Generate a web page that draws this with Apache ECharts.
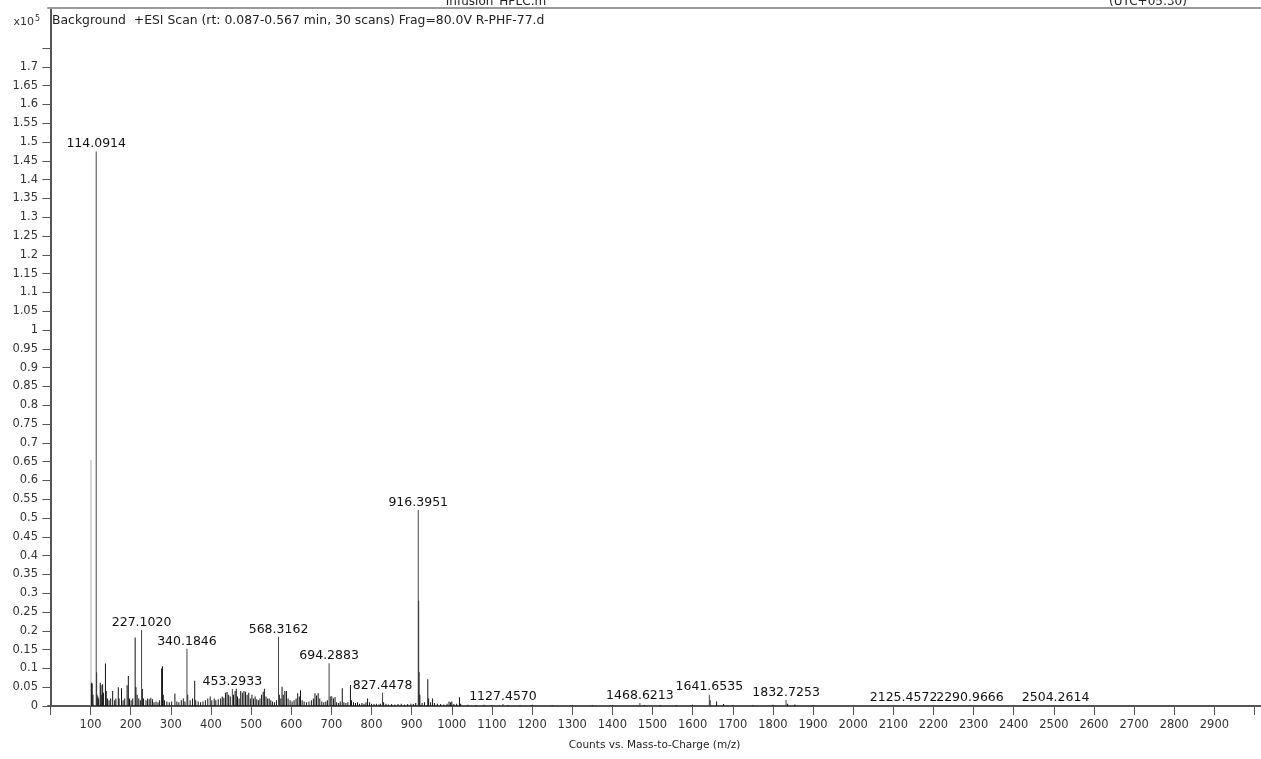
<!DOCTYPE html>
<html>
<head>
<meta charset="utf-8">
<title>Background +ESI Scan</title>
<script src="https://cdn.jsdelivr.net/npm/echarts@6/dist/echarts.min.js"></script>
<style>
  html, body { margin: 0; padding: 0; background: #fff; }
  #chart { width: 1261px; height: 759px; }
</style>
</head>
<body>
<div id="chart"></div>
<script>
// m/z axis ticks and labels
const xTicks = [0, 100, 200, 300, 400, 500, 600, 700, 800, 900, 1000, 1100, 1200, 1300, 1400, 1500,
  1600, 1700, 1800, 1900, 2000, 2100, 2200, 2300, 2400, 2500, 2600, 2700, 2800, 2900, 3000];
const xLabels = [100, 200, 300, 400, 500, 600, 700, 800, 900, 1000, 1100, 1200, 1300, 1400, 1500,
  1600, 1700, 1800, 1900, 2000, 2100, 2200, 2300, 2400, 2500, 2600, 2700, 2800, 2900];

// intensity axis (x10^5 counts)
const yTicks = [0, 0.05, 0.1, 0.15, 0.2, 0.25, 0.3, 0.35, 0.4, 0.45, 0.5, 0.55, 0.6, 0.65, 0.7, 0.75,
  0.8, 0.85, 0.9, 0.95, 1, 1.05, 1.1, 1.15, 1.2, 1.25, 1.3, 1.35, 1.4, 1.45, 1.5, 1.55, 1.6, 1.65, 1.7, 1.75];
const yLabels = [0, 0.05, 0.1, 0.15, 0.2, 0.25, 0.3, 0.35, 0.4, 0.45, 0.5, 0.55, 0.6, 0.65, 0.7, 0.75,
  0.8, 0.85, 0.9, 0.95, 1, 1.05, 1.1, 1.15, 1.2, 1.25, 1.3, 1.35, 1.4, 1.45, 1.5, 1.55, 1.6, 1.65, 1.7];

// annotated peaks: [m/z, intensity x10^5]
const annotatedPeaks = [
  [114.0914, 1.475], [227.1020, 0.202], [340.1846, 0.152], [453.2933, 0.045],
  [568.3162, 0.184], [694.2883, 0.114], [827.4478, 0.035], [916.3951, 0.521],
  [1127.4570, 0.005], [1468.6213, 0.008], [1641.6535, 0.030], [1832.7253, 0.016],
  [2125.4572, 0.0015], [2290.9666, 0.0015], [2504.2614, 0.0015]
];

// weak-profile trace near the low mass end
const faintPeaks = [[101.0, 0.655]];

// remaining centroid peaks: [m/z, intensity x10^5]
const peaks = [
  [102.1, 0.062], [104.1, 0.060], [106.1, 0.030], [115.1, 0.090], [116.1, 0.030], [118.1, 0.025],
  [120.1, 0.020], [124.1, 0.062], [126.1, 0.055], [128.1, 0.030], [130.1, 0.058], [132.1, 0.035],
  [137.1, 0.113], [139.1, 0.040], [142.1, 0.020], [146.1, 0.015], [150.1, 0.020], [155.1, 0.040],
  [160.1, 0.015], [163.1, 0.020], [169.1, 0.050], [171.1, 0.020], [177.1, 0.047], [181.1, 0.015],
  [185.1, 0.020], [191.1, 0.055], [194.1, 0.080], [197.1, 0.020], [201.1, 0.015], [205.1, 0.020],
  [211.1, 0.182], [213.1, 0.050], [216.1, 0.030], [220.1, 0.020], [224.1, 0.015], [229.1, 0.045],
  [232.1, 0.020], [238.1, 0.015], [242.1, 0.020], [246.1, 0.018], [250.1, 0.022], [254.1, 0.018],
  [258.1, 0.010], [263.1, 0.012], [268.1, 0.010], [272.1, 0.015], [277.1, 0.100], [279.1, 0.106],
  [281.1, 0.030], [284.1, 0.015], [290.1, 0.012], [296.1, 0.010], [302.1, 0.012], [310.1, 0.033],
  [315.1, 0.012], [320.1, 0.010], [326.1, 0.015], [331.1, 0.020], [335.1, 0.012], [342.1, 0.030],
  [348.1, 0.015], [354.1, 0.020], [359.5, 0.067], [362.1, 0.015], [368.1, 0.012], [374.1, 0.010],
  [380.1, 0.012], [386.1, 0.015], [392.1, 0.020], [398.1, 0.025], [402.1, 0.015], [408.1, 0.020],
  [412.1, 0.015], [418.1, 0.018], [424.1, 0.020], [428.1, 0.025], [432.1, 0.022], [436.1, 0.035],
  [440.1, 0.037], [444.1, 0.030], [448.1, 0.025], [456.1, 0.030], [460.1, 0.040], [463.1, 0.046],
  [466.1, 0.025], [470.1, 0.020], [474.1, 0.040], [478.1, 0.035], [482.1, 0.040], [486.1, 0.038],
  [490.1, 0.030], [494.1, 0.035], [498.1, 0.020], [502.1, 0.030], [506.1, 0.020], [510.1, 0.025],
  [514.1, 0.018], [518.1, 0.015], [522.1, 0.020], [526.1, 0.030], [530.1, 0.038], [533.1, 0.046],
  [537.1, 0.025], [541.1, 0.020], [545.1, 0.020], [549.1, 0.015], [553.1, 0.012], [558.1, 0.010],
  [563.1, 0.015], [570.3, 0.030], [574.1, 0.020], [577.1, 0.051], [580.1, 0.030], [584.1, 0.040],
  [588.1, 0.040], [592.1, 0.020], [597.1, 0.015], [602.1, 0.012], [607.1, 0.015], [612.1, 0.020],
  [616.1, 0.034], [620.1, 0.025], [623.1, 0.042], [627.1, 0.015], [632.1, 0.012], [638.1, 0.010],
  [644.1, 0.012], [650.1, 0.015], [655.1, 0.020], [659.1, 0.034], [663.1, 0.028], [667.1, 0.034],
  [671.1, 0.020], [676.1, 0.012], [681.1, 0.010], [686.1, 0.012], [690.1, 0.015], [697.1, 0.025],
  [701.1, 0.026], [705.1, 0.020], [709.1, 0.024], [713.1, 0.010], [718.1, 0.008], [722.1, 0.012],
  [727.1, 0.047], [731.1, 0.010], [736.1, 0.008], [741.1, 0.010], [747.5, 0.056], [750.1, 0.015],
  [755.1, 0.010], [760.1, 0.008], [765.1, 0.010], [770.1, 0.006], [776.1, 0.008], [781.1, 0.006],
  [786.1, 0.010], [790.1, 0.020], [795.1, 0.010], [800.1, 0.006], [806.1, 0.005], [812.1, 0.006],
  [818.1, 0.004], [822.1, 0.006], [830.1, 0.010], [836.1, 0.006], [842.1, 0.004], [850.1, 0.005],
  [858.1, 0.004], [866.1, 0.005], [874.1, 0.006], [882.1, 0.004], [890.1, 0.005], [898.1, 0.006],
  [904.1, 0.005], [910.1, 0.008], [917.4, 0.280], [918.4, 0.090], [920.4, 0.030], [926.1, 0.008],
  [932.1, 0.010], [940.2, 0.071], [942.2, 0.020], [947.1, 0.010], [952.1, 0.020], [957.1, 0.008],
  [964.1, 0.006], [972.1, 0.005], [980.1, 0.004], [988.1, 0.006], [993.1, 0.012], [997.1, 0.010],
  [1000.1, 0.012], [1005.1, 0.005], [1012.1, 0.006], [1019.1, 0.023], [1022.1, 0.006],
  [1040.0, 0.003], [1060.0, 0.002], [1080.0, 0.003], [1100.0, 0.002], [1140.0, 0.002],
  [1170.0, 0.002], [1200.0, 0.003], [1250.0, 0.002], [1300.0, 0.002], [1350.0, 0.002],
  [1400.0, 0.002], [1480.0, 0.002], [1520.0, 0.002], [1560.0, 0.002], [1600.0, 0.003],
  [1643.6, 0.015], [1659.7, 0.012], [1677.0, 0.005], [1700.0, 0.002], [1750.0, 0.002],
  [1800.0, 0.003], [1836.7, 0.006], [1854.7, 0.004], [1900.0, 0.002]
];

const FONT = 'DejaVu Sans';
const X_MIN = -6, X_MAX = 3016;
const chart = echarts.init(document.getElementById('chart'), null, { renderer: 'canvas' });

const stick = { barWidth: 1, barGap: '-100%', animation: false, silent: true };

chart.setOption({
  backgroundColor: '#fff',
  animation: false,
  textStyle: { fontFamily: FONT },
  grid: { left: 48, right: -2, top: 8, bottom: 53, show: false },
  xAxis: [
    {
      type: 'value',
      min: X_MIN, max: X_MAX,
      name: 'Counts vs. Mass-to-Charge (m/z)',
      nameLocation: 'middle',
      nameGap: 34,
      nameTextStyle: { fontFamily: FONT, fontSize: 10.5, color: '#222' },
      axisLine: { show: true, lineStyle: { color: '#555', width: 2 } },
      axisTick: { show: true, length: 9, customValues: xTicks, lineStyle: { color: '#555', width: 1 } },
      axisLabel: {
        customValues: xLabels, margin: 13, fontFamily: FONT, fontSize: 11.5, color: '#333',
        formatter: v => String(v)
      },
      splitLine: { show: false }
    },
    {
      // top frame rule
      type: 'value', position: 'top',
      min: X_MIN, max: X_MAX,
      axisLine: { show: true, onZero: false, lineStyle: { color: '#9a9a9a', width: 2 } },
      axisTick: { show: false },
      axisLabel: { show: false },
      splitLine: { show: false }
    }
  ],
  yAxis: {
    type: 'value',
    min: 0, max: 1.8564,
    axisLine: { show: true, lineStyle: { color: '#555', width: 2 } },
    axisTick: { show: true, length: 8, customValues: yTicks, lineStyle: { color: '#555', width: 1 } },
    axisLabel: {
      customValues: yLabels, margin: 10, fontFamily: FONT, fontSize: 11.5, color: '#333',
      formatter: v => String(Math.round(v * 100) / 100)
    },
    splitLine: { show: false }
  },
  graphic: [
    { type: 'text', x: 496, y: 2, style: { text: 'Infusion_HPLC.m', font: '12px "DejaVu Sans"', fill: '#222', align: 'center', verticalAlign: 'middle' } },
    { type: 'text', x: 1148, y: 2, style: { text: '(UTC+05:30)', font: '12px "DejaVu Sans"', fill: '#222', align: 'center', verticalAlign: 'middle' } },
    { type: 'text', x: 52, y: 21, style: { text: 'Background  +ESI Scan (rt: 0.087-0.567 min, 30 scans) Frag=80.0V R-PHF-77.d', font: '12.4px "DejaVu Sans"', fill: '#222', align: 'left', verticalAlign: 'middle' } },
    { type: 'text', x: 40, y: 22, style: {
        text: '{a|x10}{b|5}', align: 'right', verticalAlign: 'middle',
        rich: { a: { fontFamily: FONT, fontSize: 11, fill: '#333', color: '#333' },
                b: { fontFamily: FONT, fontSize: 8, fill: '#333', color: '#333', verticalAlign: 'top', padding: [0, 0, 6, 1] } }
      } }
  ],
  series: [
    Object.assign({
      type: 'bar', name: 'faint',
      itemStyle: { color: '#b0b0b0' },
      data: faintPeaks
    }, stick),
    Object.assign({
      type: 'bar', name: 'peaks',
      itemStyle: { color: '#111' },
      data: peaks
    }, stick),
    Object.assign({
      type: 'bar', name: 'annotated',
      itemStyle: { color: '#444' },
      label: {
        show: true, position: 'top', distance: 1,
        fontFamily: FONT, fontSize: 12.5, color: '#111',
        formatter: p => p.value[0].toFixed(4)
      },
      data: annotatedPeaks
    }, stick)
  ]
});
</script>
</body>
</html>
